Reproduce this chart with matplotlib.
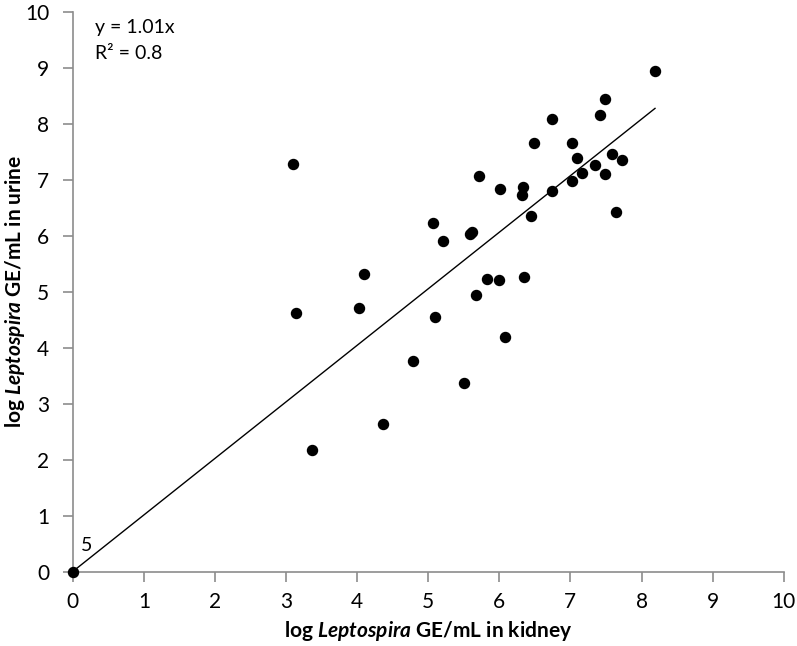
import numpy as np
import matplotlib.pyplot as plt

plt.rcParams['font.family'] = ['Lato', 'DejaVu Sans']
plt.rcParams['mathtext.fontset'] = 'custom'
plt.rcParams['mathtext.bfit'] = 'Lato:italic:bold'
plt.rcParams['mathtext.rm'] = 'Lato'

# log GE/mL in kidney (x) and urine (y)
kidney = [0.0, 3.10, 4.10, 3.14, 4.03, 8.19, 7.48, 7.41, 6.74, 6.49, 7.02,
          7.09, 7.58, 7.73, 7.35, 7.17, 7.49, 7.02, 5.71, 6.01, 6.34, 6.32,
          6.74, 6.44, 7.64, 5.07, 5.21, 5.59, 5.62, 5.82, 5.99, 6.35, 5.67,
          5.09, 6.08, 4.79, 5.50, 4.36, 3.37]
urine = [0.0, 7.28, 5.32, 4.62, 4.70, 8.94, 8.44, 8.15, 8.09, 7.66, 7.66,
         7.38, 7.46, 7.35, 7.26, 7.12, 7.10, 6.98, 7.06, 6.84, 6.86, 6.72,
         6.79, 6.35, 6.43, 6.22, 5.90, 6.03, 6.07, 5.23, 5.20, 5.26, 4.94,
         4.55, 4.18, 3.76, 3.37, 2.64, 2.17]
slope = 1.01
r2 = 0.8
n_origin = 5

fig = plt.figure(figsize=(7.97, 6.46), dpi=100)
ax = fig.add_axes([0.0913, 0.1153, 0.892, 0.8667])

ax.scatter(kidney, urine, s=52, color='black', zorder=3, clip_on=False)
xfit = np.array([0, max(kidney)])
ax.plot(xfit, slope * xfit, color='black', lw=1.0)

ax.set_xlim(0, 10)
ax.set_ylim(0, 10)
ax.set_xticks(range(0, 11))
ax.set_yticks(range(0, 11))

for s in ['top', 'right']:
    ax.spines[s].set_visible(False)
for s in ['left', 'bottom']:
    ax.spines[s].set_color('#8c8c8c')
    ax.spines[s].set_linewidth(1.2)
ax.tick_params(direction='out', length=7, width=1.2, color='#8c8c8c',
               labelsize=15)
ax.tick_params(axis='y', pad=10)
ax.tick_params(axis='x', pad=8)

ax.set_xlabel(r'log $\mathbfit{Leptospira}$ GE/mL in kidney',
              fontsize=15, fontweight='bold')
ax.set_ylabel(r'log $\mathbfit{Leptospira}$ GE/mL in urine',
              fontsize=15, fontweight='bold')
ax.xaxis.set_label_coords(0.5, -0.084)
ax.yaxis.set_label_coords(-0.064, 0.5)

ax.text(0.31, 9.71, 'y = %.2fx' % slope, fontsize=14, va='center')
ax.text(0.31, 9.26, 'R² = %.1f' % r2, fontsize=14, va='center')
ax.text(0.12, 0.47, str(n_origin), fontsize=14, va='center')

fig.savefig('out.png', dpi=100)
